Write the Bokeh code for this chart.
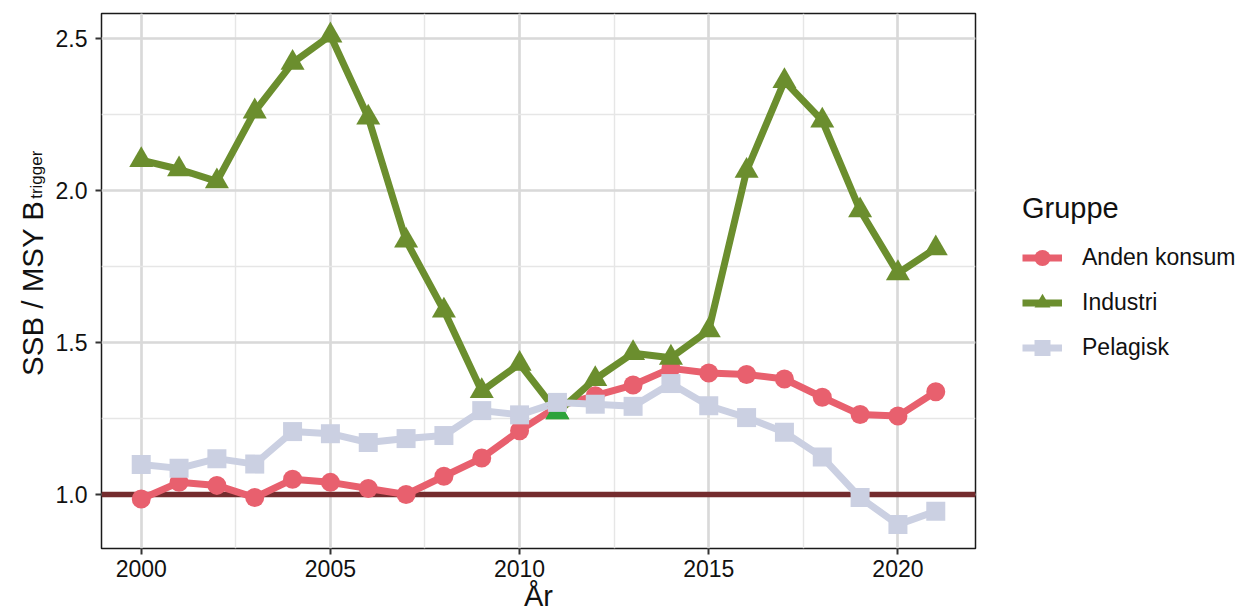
import math
from bokeh.plotting import figure
from bokeh.layouts import row
from bokeh.models import (Range1d, SingleIntervalTicker, Span, Legend, LegendItem,
                          CustomJSTickFormatter)
from bokeh.core.properties import value
from bokeh.embed import file_html
from bokeh.resources import INLINE

# ---------------- data ----------------
years = list(range(2000, 2022))
anden_konsum = [0.985, 1.04, 1.03, 0.99, 1.05, 1.04, 1.02, 1.00, 1.06, 1.12, 1.21, 1.29,
                1.325, 1.36, 1.415, 1.40, 1.395, 1.38, 1.32, 1.263, 1.258, 1.338]
industri = [2.10, 2.07, 2.03, 2.26, 2.42, 2.51, 2.24, 1.835, 1.605, 1.34, 1.43, 1.27,
            1.38, 1.465, 1.45, 1.54, 2.065, 2.36, 2.23, 1.935, 1.728, 1.81]
pelagisk = [1.099, 1.086, 1.118, 1.10, 1.207, 1.20, 1.171, 1.184, 1.194, 1.276, 1.262, 1.303,
            1.297, 1.29, 1.365, 1.292, 1.253, 1.205, 1.123, 0.99, 0.901, 0.945]
highlight_year = [2011]
highlight_value = [1.27]
reference_level = 1.0
groups = ["Anden konsum", "Industri", "Pelagisk"]
legend_title = "Gruppe"
x_title = "År"
y_title_main = "SSB / MSY B"
y_title_sub = "trigger"

FONT = "Liberation Sans"
TXT = "#111111"
col_anden = "#E8606E"
col_ind = "#6B8E2E"
col_pel = "#CBD0E2"
col_hl = "#2CA33A"
col_ref = "#742C2E"

W_TOTAL = 1247
H = 615
TW = 52                       # y-title strip width
FRAME_L, FRAME_T, FRAME_W, FRAME_H = 100, 13, 875, 535
PW = FRAME_L - TW + FRAME_W + 2
LW = W_TOTAL - TW - PW        # legend strip width


def strip(w, h, xr, yr):
    f = figure(width=w, height=h, output_backend="svg", toolbar_location=None,
               x_range=Range1d(*xr), y_range=Range1d(*yr),
               x_axis_type=None, y_axis_type=None, min_border=0)
    f.outline_line_color = None
    f.grid.visible = False
    f.background_fill_color = "white"
    f.border_fill_color = "white"
    return f


# ---------------- y-title strip ----------------
yt = strip(TW, H, (0, TW), (0, H))
yt.text(x=[32], y=[H - 215], text=[y_title_main], angle=math.pi / 2,
        text_font=value(FONT), text_font_size="29.5px", text_align="right",
        text_baseline="alphabetic", text_color=TXT)
yt.text(x=[36], y=[H - 213], text=[y_title_sub], angle=math.pi / 2,
        text_font=value(FONT), text_font_size="17px", text_align="left",
        text_baseline="alphabetic", text_color=TXT)

# ---------------- main plot ----------------
p = figure(width=PW, height=H, output_backend="svg", toolbar_location=None,
           x_range=Range1d(1998.95, 2022.05), y_range=Range1d(0.8224, 2.5823),
           min_border_left=FRAME_L - TW, min_border_right=PW - (FRAME_L - TW) - FRAME_W,
           min_border_top=FRAME_T, min_border_bottom=H - FRAME_T - FRAME_H)
p.background_fill_color = "white"
p.border_fill_color = "white"
p.outline_line_color = "#1A1A1A"
p.outline_line_width = 1.5

p.xaxis.ticker = SingleIntervalTicker(interval=5, num_minor_ticks=2)
p.yaxis.ticker = SingleIntervalTicker(interval=0.5, num_minor_ticks=2)
for ax in (p.xaxis[0], p.yaxis[0]):
    ax.axis_line_color = None
    ax.major_tick_line_color = "#333333"
    ax.major_tick_line_width = 2
    ax.major_tick_out = 6
    ax.major_tick_in = 0
    ax.minor_tick_line_color = None
    ax.major_label_text_font = FONT
    ax.major_label_text_font_size = "23px"
    ax.major_label_text_color = TXT
p.xaxis.major_label_standoff = 5
p.yaxis.major_label_standoff = 8
p.yaxis.formatter = CustomJSTickFormatter(code="return tick.toFixed(1);")
p.xaxis.axis_label = x_title
p.xaxis.axis_label_text_font = FONT
p.xaxis.axis_label_text_font_size = "29px"
p.xaxis.axis_label_text_font_style = "normal"
p.xaxis.axis_label_text_color = TXT
p.xaxis.axis_label_standoff = 0

for g in (p.xgrid[0], p.ygrid[0]):
    g.grid_line_color = "#D9D9D9"
    g.grid_line_width = 2.6
    g.minor_grid_line_color = "#E6E6E6"
    g.minor_grid_line_width = 1.4

p.add_layout(Span(location=reference_level, dimension="width", line_color=col_ref,
                  line_width=5.5, level="underlay"))

series = [(anden_konsum, col_anden, "circle", 19),
          (industri, col_ind, "triangle", 24),
          (pelagisk, col_pel, "square", 19)]
for vals, col, mk, sz in series:
    p.line(years, vals, line_color=col, line_width=7)
for i, (vals, col, mk, sz) in enumerate(series):
    p.scatter(years, vals, marker=mk, size=sz, fill_color=col, line_color=None)
    if i == 1:
        p.scatter(highlight_year, highlight_value, marker="triangle", size=24,
                  fill_color=col_hl, line_color=None)

# ---------------- legend strip ----------------
lg = strip(LW, H, (0, 1), (0, 1))
items = []
for name, (vals, col, mk, sz) in zip(groups, series):
    # proxy glyphs (outside the visible range) that only feed the legend
    lr = lg.line([-5, -4], [-5, -5], line_color=col, line_width=7)
    sr = lg.scatter([-5], [-5], marker=mk, size=sz, fill_color=col, line_color=None)
    items.append(LegendItem(label=name, renderers=[lr, sr]))
legend = Legend(items=items, location=(1022 - (TW + PW), 178), title=legend_title)
legend.title_text_font = FONT
legend.title_text_font_size = "29px"
legend.title_text_font_style = "normal"
legend.title_text_color = TXT
legend.title_standoff = 10
legend.label_text_font = FONT
legend.label_text_font_size = "23px"
legend.label_text_color = TXT
legend.glyph_width = 40
legend.glyph_height = 45
legend.label_height = 45
legend.spacing = 0
legend.label_standoff = 20
legend.padding = 0
legend.margin = 0
legend.border_line_color = None
legend.background_fill_alpha = 0
lg.add_layout(legend, "center")

layout = row(yt, p, lg, spacing=0)
open("out.html", "w").write(file_html(layout, INLINE))
